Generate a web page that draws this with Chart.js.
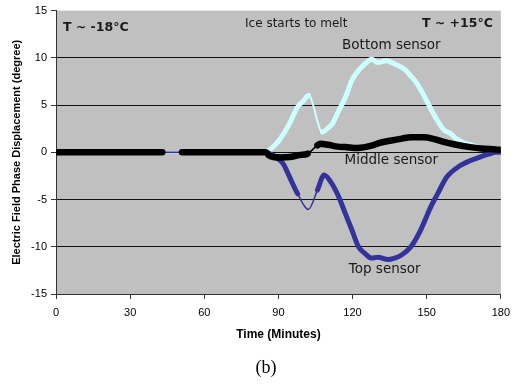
<!DOCTYPE html>
<html>
<head>
<meta charset="utf-8">
<script src="https://cdn.jsdelivr.net/npm/chart.js@4.4.1/dist/chart.umd.min.js"></script>
<style>
  body { margin: 0; background: #fff; }
  canvas { display: block; }
</style>
</head>
<body>
<canvas id="phase-chart" width="517" height="385"></canvas>
<script>
// readings taken off the figure (time in minutes, displacement in degrees)
const bottomTime = [0, 20, 43, 51, 60, 80, 85, 88, 90.4, 94, 97.8, 100, 102.2, 107.8, 109.8, 111.8, 114.4, 117.1, 119.7, 122.4, 125, 127.7, 130.3, 133.7, 137, 141, 143.5, 146.3, 150.3, 152.9, 156.9, 159.6, 162.2, 165, 168.9, 172, 175, 178, 180];
const bottomVals = [0, 0, 0, 0, 0, 0, 0.1, 0.6, 1.3, 2.8, 4.8, 5.4, 6.0, 2.15, 2.5, 3.0, 4.4, 5.8, 7.6, 8.65, 9.35, 9.85, 9.5, 9.7, 9.35, 8.8, 8.1, 7.2, 5.3, 4.0, 2.4, 2.0, 1.4, 1.0, 0.7, 0.45, 0.3, 0.2, 0.1];

const middleTime = [0, 10, 20, 30, 43, 51, 60, 70, 80, 85, 86, 88, 91, 94.5, 98.4, 101.8, 105.8, 107, 110, 114, 117, 122, 127.7, 131, 135.7, 140, 143.6, 149, 153, 156.9, 161, 167.5, 172, 178, 180];
const middleVals = [0, 0, 0, 0, 0, 0, 0, 0, 0, 0, -0.3, -0.5, -0.55, -0.5, -0.3, -0.15, 0.75, 0.9, 0.8, 0.6, 0.55, 0.45, 0.7, 1.0, 1.25, 1.45, 1.6, 1.6, 1.4, 1.1, 0.85, 0.55, 0.4, 0.3, 0.25];

const topTime = [0, 20, 43, 51, 60, 80, 85, 86.5, 89, 91.9, 94.5, 97.8, 102.1, 105.8, 108.5, 111.1, 114.4, 117.1, 119.7, 122.4, 125, 127.7, 130.3, 134.3, 137, 139.7, 143.6, 147.6, 151.6, 154.2, 158.2, 163.6, 167.5, 171.5, 175, 178, 180];
const topVals = [0, 0, 0, 0, 0, 0, 0, -0.15, -0.5, -1.2, -2.6, -4.4, -6.05, -4.0, -2.4, -3.1, -4.7, -6.5, -8.2, -10.0, -10.7, -11.2, -11.1, -11.35, -11.2, -10.9, -10.0, -8.2, -5.8, -4.5, -2.6, -1.4, -0.9, -0.5, -0.2, 0, 0];

const xTicks = [0, 30, 60, 90, 120, 150, 180];
const yTicks = [-15, -10, -5, 0, 5, 10, 15];

function pairs(xs, ys) {
  return xs.map((x, i) => ({ x: x, y: ys[i] }));
}

function inRanges(ctx, ranges) {
  return ranges.some(r => ctx.p0.parsed.x >= r[0] && ctx.p1.parsed.x <= r[1]);
}

// thin stretches of a line (where the original has no markers)
function thinBetween(ranges, thick, thin) {
  return ctx => inRanges(ctx, ranges) ? thin : thick;
}

const notes = [
  { text: 'T ~ -18°C', x: 2.8, y: 13.2, font: 'bold 12.5px "DejaVu Sans"', align: 'left' },
  { text: 'Ice starts to melt', x: 97.2, y: 13.6, font: '12px "DejaVu Sans"', align: 'center' },
  { text: 'T ~ +15°C', x: 176.8, y: 13.6, font: 'bold 12.5px "DejaVu Sans"', align: 'right' },
  { text: 'Bottom sensor', x: 135.7, y: 11.3, font: '13.5px "DejaVu Sans"', align: 'center' },
  { text: 'Middle sensor', x: 135.7, y: -0.85, font: '13.5px "DejaVu Sans"', align: 'center' },
  { text: 'Top sensor', x: 133, y: -12.4, font: '13.5px "DejaVu Sans"', align: 'center' }
];

const paper = {
  id: 'paper',
  beforeDraw(chart) {
    const { ctx, chartArea: a } = chart;
    ctx.save();
    ctx.fillStyle = '#c0c0c0';
    ctx.fillRect(a.left, a.top, a.right - a.left, a.bottom - a.top);
    ctx.restore();
  },
  afterDraw(chart) {
    const { ctx, scales } = chart;
    ctx.save();
    ctx.fillStyle = '#1a1a1a';
    ctx.textBaseline = 'middle';
    notes.forEach(n => {
      ctx.font = n.font;
      ctx.textAlign = n.align;
      ctx.fillText(n.text, scales.x.getPixelForValue(n.x), scales.y.getPixelForValue(n.y));
    });
    ctx.fillStyle = '#000';
    ctx.font = '18px "Liberation Serif"';
    ctx.textAlign = 'center';
    ctx.fillText('(b)', 266, 368);
    ctx.restore();
  }
};

new Chart(document.getElementById('phase-chart'), {
  type: 'line',
  data: {
    datasets: [
      {
        label: 'Middle sensor',
        data: pairs(middleTime, middleVals),
        borderColor: '#000',
        backgroundColor: '#000',
        borderWidth: 6.5,
        pointRadius: 0,
        order: 0,
        segment: {
          borderWidth: thinBetween([[43, 51], [100, 106]], 6.5, 1.5),
          borderColor: ctx => inRanges(ctx, [[43, 51]]) ? 'rgba(0,0,0,0)' : '#000'
        }
      },
      {
        label: 'Bottom sensor',
        data: pairs(bottomTime, bottomVals),
        borderColor: '#ccffff',
        backgroundColor: '#ccffff',
        borderWidth: 5,
        pointRadius: 0,
        order: 2,
        segment: { borderWidth: thinBetween([[43, 51], [102, 108]], 5, 2) }
      },
      {
        label: 'Top sensor',
        data: pairs(topTime, topVals),
        borderColor: '#333399',
        backgroundColor: '#333399',
        borderWidth: 5,
        pointRadius: 0,
        order: 1,
        segment: { borderWidth: thinBetween([[43, 51], [97.5, 106]], 5, 1.5) }
      }
    ]
  },
  options: {
    responsive: false,
    animation: false,
    cubicInterpolationMode: 'monotone',
    borderCapStyle: 'round',
    borderJoinStyle: 'round',
    layout: { padding: { top: 10, right: 9, bottom: 40, left: 0 } },
    plugins: {
      legend: { display: false },
      tooltip: { enabled: false }
    },
    scales: {
      x: {
        type: 'linear',
        min: 0,
        max: 180,
        afterFit: s => { s.height = 51; },
        afterBuildTicks: s => { s.ticks = xTicks.map(v => ({ value: v })); },
        grid: { drawOnChartArea: false, tickLength: 5, color: '#333', tickColor: '#333' },
        border: { color: '#333', width: 1 },
        ticks: { padding: 7, color: '#000', font: { family: 'Liberation Sans', size: 11 } },
        title: {
          display: true,
          text: 'Time (Minutes)',
          color: '#000',
          font: { family: 'Liberation Sans', size: 12, weight: 'bold' },
          padding: { top: 0, bottom: 3 }
        }
      },
      y: {
        min: -15,
        max: 15,
        afterFit: s => { s.width = 56; },
        afterBuildTicks: s => { s.ticks = yTicks.map(v => ({ value: v })); },
        grid: {
          tickLength: 5,
          color: c => c.tick && c.tick.value === 15 ? 'rgba(0,0,0,0)' : '#111',
          tickColor: '#333'
        },
        border: { color: '#333', width: 1 },
        ticks: { padding: 4, color: '#000', font: { family: 'Liberation Sans', size: 11 } },
        title: {
          display: true,
          text: 'Electric Field Phase Displacement (degree)',
          color: '#000',
          font: { family: 'Liberation Sans', size: 11, weight: 'bold' },
          padding: { top: 10, bottom: 0 }
        }
      }
    }
  },
  plugins: [paper]
});
</script>
</body>
</html>
